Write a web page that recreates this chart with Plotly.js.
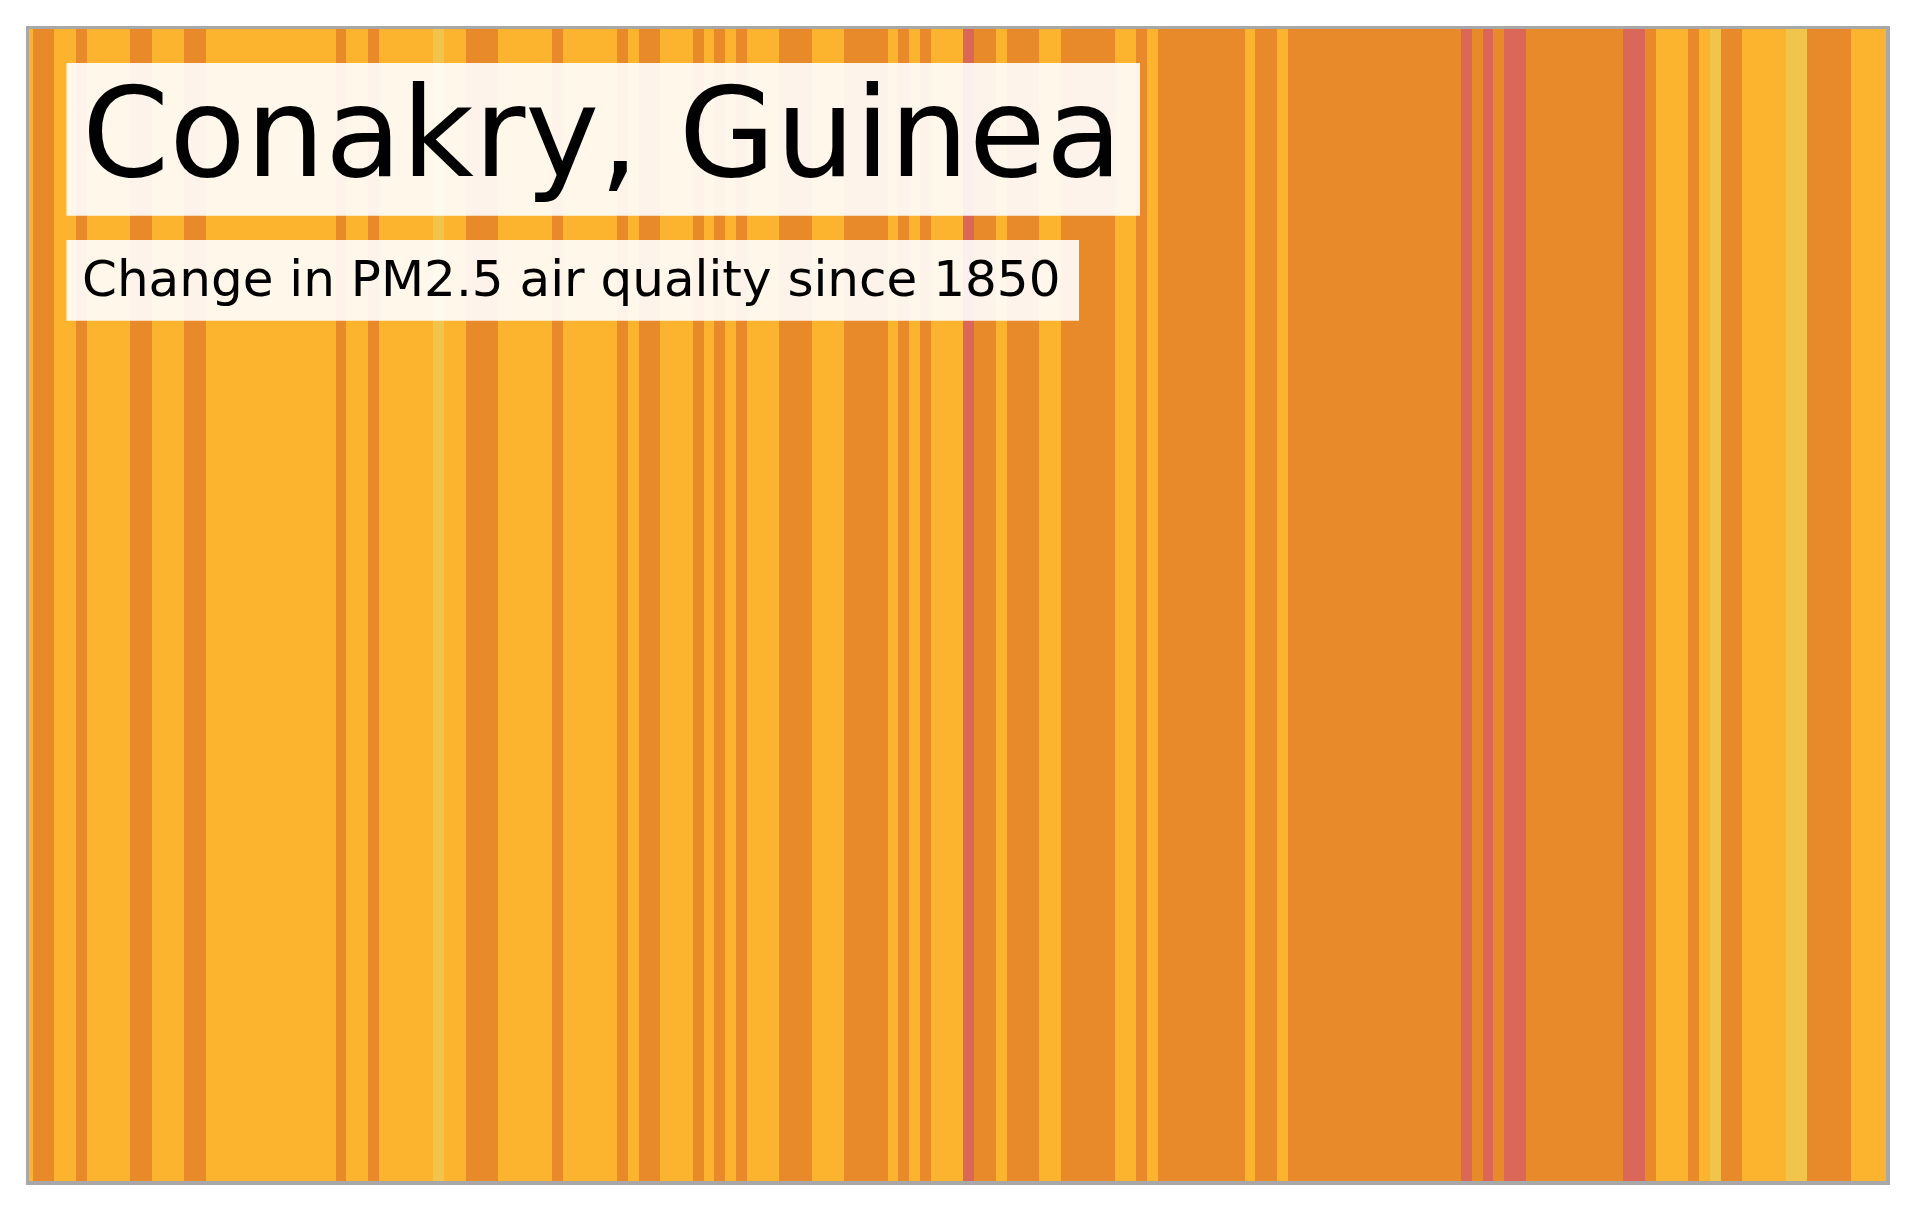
<!DOCTYPE html>
<html>
<head>
<meta charset="utf-8">
<script src="https://cdn.plot.ly/plotly-3.0.1.min.js"></script>
<style>html,body{margin:0;padding:0;background:#fff;}#chart{width:1915px;height:1210px;}</style>
</head>
<body>
<div id="chart"></div>
<script>
// ---- data ----
const titleText = "Conakry, Guinea";
const subtitleText = "Change in PM2.5 air quality since 1850";
const firstYear = 1850;
const lastYear = 2022;
// PM2.5 band per year: 0 = lowest (light yellow), 1 = yellow, 2 = orange, 3 = red
const bandNames = ["band 0", "band 1", "band 2", "band 3"];
const bandColors = ["#F1C54B", "#FCB42E", "#E8892A", "#DB6759"];
const bands = [
  1,2,2,1,1,2,1,1,1,1,   // 1850s
  2,2,1,1,1,2,2,1,1,1,   // 1860s
  1,1,1,1,1,1,1,1,1,2,   // 1870s
  1,1,2,1,1,1,1,1,0,1,   // 1880s
  1,2,2,2,1,1,1,1,1,2,   // 1890s
  1,1,1,1,1,2,1,2,2,1,   // 1900s
  1,1,2,1,2,1,2,1,1,1,   // 1910s
  2,2,2,1,1,1,2,2,2,2,   // 1920s
  1,2,1,2,1,1,1,3,2,2,   // 1930s
  1,2,2,2,1,1,2,2,2,2,   // 1940s
  2,1,1,2,1,2,2,2,2,2,   // 1950s
  2,2,2,1,2,2,1,2,2,2,   // 1960s
  2,2,2,2,2,2,2,2,2,2,   // 1970s
  2,2,2,3,2,3,2,3,3,2,   // 1980s
  2,2,2,2,2,2,2,2,3,3,   // 1990s
  2,1,1,1,2,1,0,2,2,1,   // 2000s
  1,1,1,0,0,2,2,2,2,1,   // 2010s
  1,1,1                  // 2020-2022
];
const years = [];
for (let y = firstYear; y <= lastYear; y++) years.push(y);

// ---- layout helpers (pixels -> paper) ----
const W = 1915, H = 1210;
const mL = 29, mR = 29, mT = 29, mB = 29;
const pw = W - mL - mR, ph = H - mT - mB;
const px = v => (v - mL) / pw;
const py = v => (H - mB - v) / ph;

const n = bandColors.length;
const colorscale = [];
bandColors.forEach((c, i) => {
  colorscale.push([i / n, c]);
  colorscale.push([(i + 1) / n, c]);
});

const trace = {
  type: "heatmap",
  x: years,
  y: [0],
  z: [bands],
  zmin: -0.5,
  zmax: n - 0.5,
  colorscale: colorscale,
  showscale: false,
  hoverinfo: "x+z",
  zsmooth: false
};

const boxFill = "rgba(255,255,255,0.9)";
const layout = {
  width: W,
  height: H,
  margin: {l: mL, r: mR, t: mT, b: mB, pad: 0},
  paper_bgcolor: "#ffffff",
  plot_bgcolor: "#ffffff",
  showlegend: false,
  xaxis: {
    range: [1850.16, 2021.82],
    showgrid: false, zeroline: false, showticklabels: false, ticks: "",
    showline: true, linecolor: "#a8a8a8", linewidth: 3.5, mirror: true,
    fixedrange: true
  },
  yaxis: {
    range: [-0.5, 0.5],
    showgrid: false, zeroline: false, showticklabels: false, ticks: "",
    showline: true, linecolor: "#a8a8a8", linewidth: 3.5, mirror: true,
    fixedrange: true
  },
  shapes: [
    {type: "rect", xref: "paper", yref: "paper", layer: "above",
     x0: px(66.5), x1: px(1140), y0: py(215.7), y1: py(63),
     fillcolor: boxFill, line: {width: 0}},
    {type: "rect", xref: "paper", yref: "paper", layer: "above",
     x0: px(66.5), x1: px(1079), y0: py(320.7), y1: py(240),
     fillcolor: boxFill, line: {width: 0}}
  ],
  annotations: [
    {text: titleText, xref: "paper", yref: "paper", x: px(82), y: py(60),
     xanchor: "left", yanchor: "top", showarrow: false, borderpad: 0, borderwidth: 0,
     font: {family: "DejaVu Sans", size: 125, color: "#000000"}},
    {text: subtitleText, xref: "paper", yref: "paper", x: px(81.5), y: py(249.5),
     xanchor: "left", yanchor: "top", showarrow: false, borderpad: 0, borderwidth: 0,
     font: {family: "DejaVu Sans", size: 50, color: "#000000"}}
  ]
};

Plotly.newPlot("chart", [trace], layout, {displayModeBar: false, staticPlot: true});
</script>
</body>
</html>
